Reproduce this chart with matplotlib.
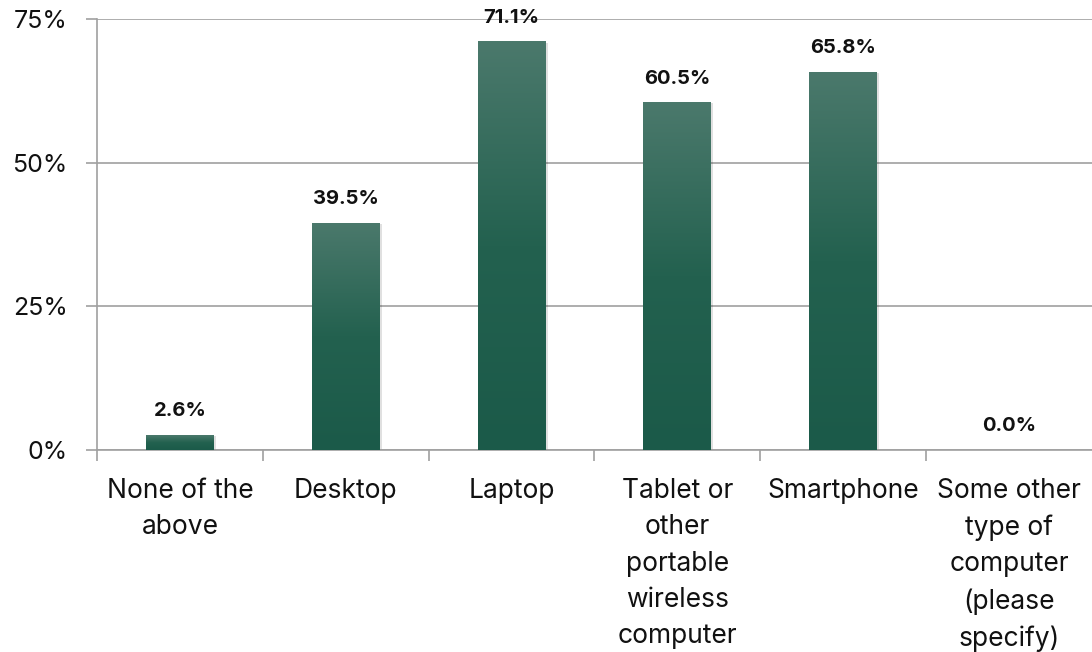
import numpy as np
import matplotlib.pyplot as plt
from matplotlib.colors import LinearSegmentedColormap
from matplotlib.patches import Rectangle

categories = ["None of the\nabove", "Desktop", "Laptop",
              "Tablet or\nother\nportable\nwireless\ncomputer",
              "Smartphone",
              "Some other\ntype of\ncomputer\n(please\nspecify)"]
values = [2.6, 39.5, 71.1, 60.5, 65.8, 0.0]
yticks = [0, 25, 50, 75]

plt.rcParams['font.family'] = ['Inter', 'DejaVu Sans']

fig = plt.figure(figsize=(10.92, 6.52), dpi=100)
ax = fig.add_axes([0.0888, 0.3098, 0.9112, 0.6611])

x = np.arange(len(categories))
width = 0.41
cmap = LinearSegmentedColormap.from_list("bar", ["#1b5a49", "#23614f", "#4b796c"])
grad = np.linspace(0, 1, 256).reshape(-1, 1)

for xi, v in zip(x, values):
    if v <= 0:
        continue
    # soft drop shadow
    ax.add_patch(Rectangle((xi - width / 2 + 0.012, 0), width, v - 0.2,
                           facecolor="#000000", alpha=0.12, edgecolor="none", zorder=2))
    im = ax.imshow(grad, cmap=cmap, aspect="auto", origin="lower",
                   extent=(xi - width / 2, xi + width / 2, 0, v), zorder=3)
    clip = Rectangle((xi - width / 2, 0), width, v, transform=ax.transData,
                     facecolor="none", edgecolor="none")
    ax.add_patch(clip)
    im.set_clip_path(clip)

for xi, v in zip(x, values):
    ax.annotate(f"{v:.1f}%", (xi, v), xytext=(0, 17), textcoords="offset points",
                ha="center", va="center", fontsize=14.5, fontweight="bold",
                color="#111111", zorder=5, annotation_clip=False)

ax.set_xlim(-0.5, len(categories) - 0.5)
ax.set_ylim(0, 75)
ax.set_yticks(yticks)
ax.set_yticklabels([f"{t}%" for t in yticks], fontsize=18, color="#111111")
ax.tick_params(axis="y", length=8, color="#a0a0a0", width=1.2, pad=13)
ax.grid(axis="y", color="#a0a0a0", linewidth=1.2, zorder=0)
ax.set_axisbelow(True)

ax.set_xticks(x)
ax.set_xticklabels(categories, fontsize=19, color="#111111", linespacing=1.52)
ax.tick_params(axis="x", length=0, pad=20)
ax.set_xticks(np.arange(len(categories)) - 0.5, minor=True)
ax.tick_params(axis="x", which="minor", length=8, color="#a0a0a0", width=1.2)

for side in ["top", "right"]:
    ax.spines[side].set_visible(False)
ax.spines["left"].set_color("#a0a0a0")
ax.spines["left"].set_linewidth(1.2)
ax.spines["bottom"].set_color("#a0a0a0")
ax.spines["bottom"].set_linewidth(1.2)

fig.savefig("out.png", dpi=100)
